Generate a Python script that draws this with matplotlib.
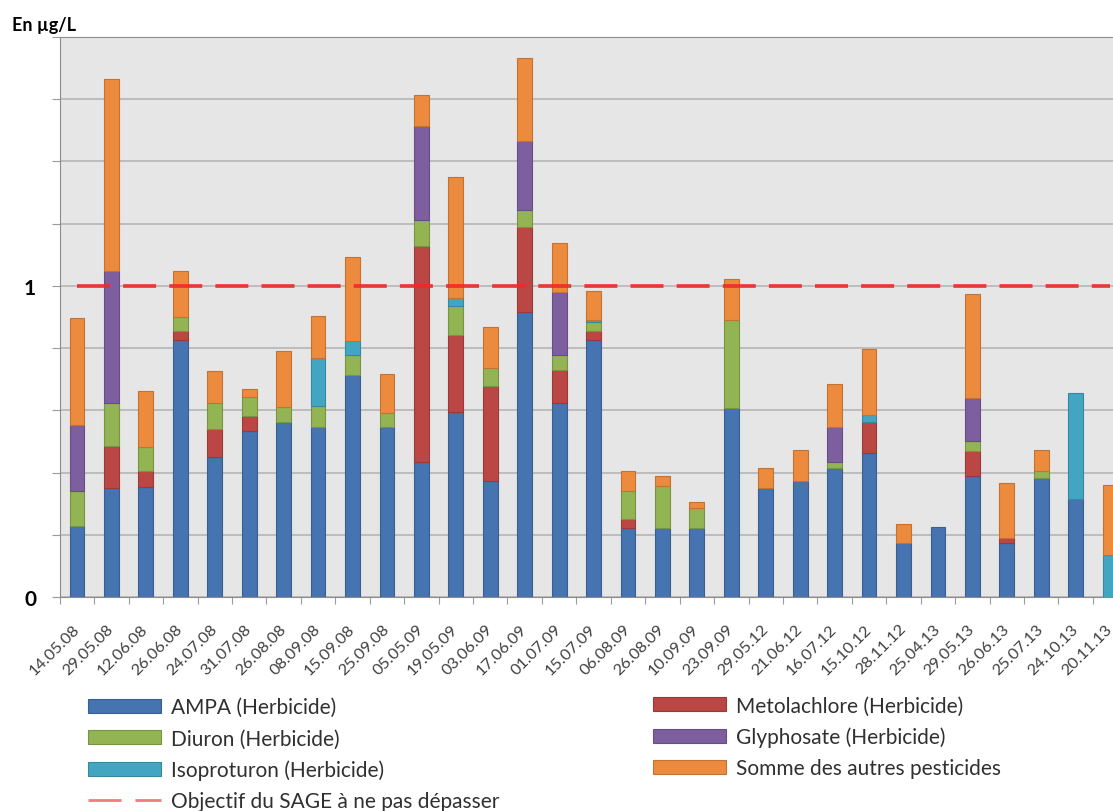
import numpy as np
import matplotlib.pyplot as plt
from matplotlib.lines import Line2D
from matplotlib.patches import Patch

plt.rcParams['font.family'] = ['Lato', 'DejaVu Sans']

dates = ['14.05.08', '29.05.08', '12.06.08', '26.06.08', '24.07.08', '31.07.08',
         '26.08.08', '08.09.08', '15.09.08', '25.09.08', '05.05.09', '19.05.09',
         '03.06.09', '17.06.09', '01.07.09', '15.07.09', '06.08.09', '26.08.09',
         '10.09.09', '23.09.09', '29.05.12', '21.06.12', '16.07.12', '15.10.12',
         '28.11.12', '25.04.13', '29.05.13', '26.06.13', '25.07.13', '24.10.13',
         '20.11.13']

# concentrations en µg/L, empilées dans cet ordre
ampa = [0.227, 0.349, 0.355, 0.826, 0.449, 0.534, 0.562, 0.546, 0.714, 0.545,
        0.433, 0.596, 0.372, 0.917, 0.623, 0.826, 0.223, 0.223, 0.223, 0.607,
        0.349, 0.373, 0.414, 0.463, 0.173, 0.225, 0.390, 0.174, 0.382, 0.315, 0.0]
metolachlore = [0, 0.138, 0.049, 0.028, 0.091, 0.047, 0, 0, 0, 0,
                0.694, 0.246, 0.305, 0.272, 0.107, 0.028, 0.028, 0, 0, 0,
                0, 0, 0, 0.099, 0, 0, 0.078, 0.015, 0, 0, 0]
diuron = [0.113, 0.136, 0.079, 0.045, 0.083, 0.063, 0.049, 0.067, 0.064, 0.046,
          0.086, 0.095, 0.059, 0.055, 0.048, 0.029, 0.091, 0.135, 0.063, 0.284,
          0, 0, 0.021, 0, 0, 0, 0.035, 0, 0.022, 0, 0]
isoproturon = [0, 0, 0, 0, 0, 0, 0, 0.154, 0.046, 0,
               0, 0.024, 0, 0, 0, 0.009, 0, 0, 0, 0,
               0, 0, 0, 0.024, 0, 0, 0, 0, 0, 0.341, 0.135]
glyphosate = [0.214, 0.426, 0, 0, 0, 0, 0, 0, 0, 0,
              0.300, 0, 0, 0.223, 0.202, 0, 0, 0, 0, 0,
              0, 0, 0.111, 0, 0, 0, 0.136, 0, 0, 0, 0]
autres = [0.343, 0.617, 0.179, 0.148, 0.103, 0.024, 0.179, 0.135, 0.269, 0.125,
          0.101, 0.388, 0.133, 0.265, 0.158, 0.091, 0.064, 0.031, 0.018, 0.132,
          0.065, 0.101, 0.138, 0.211, 0.062, 0, 0.335, 0.178, 0.067, 0, 0.226]

objectif = 1.0

series = [
    ('AMPA (Herbicide)', ampa, '#4674b0', '#3a5f8f'),
    ('Metolachlore (Herbicide)', metolachlore, '#bb4745', '#983a38'),
    ('Diuron (Herbicide)', diuron, '#93b453', '#789343'),
    ('Isoproturon (Herbicide)', isoproturon, '#42a6c2', '#36889f'),
    ('Glyphosate (Herbicide)', glyphosate, '#7d5fa0', '#664e83'),
    ('Somme des autres pesticides', autres, '#ec8b3d', '#c27232'),
]

fig = plt.figure(figsize=(11.13, 8.12), dpi=100)
ax = fig.add_axes([0.0537, 0.2635, 0.9592, 0.6897])

x = np.arange(len(dates))
bottom = np.zeros(len(dates))
handles = {}
for name, vals, color, edge in series:
    vals = np.array(vals)
    ax.bar(x, vals, 0.43, bottom=bottom, color=color, edgecolor=edge,
           linewidth=np.where(vals > 0, 0.8, 0), zorder=2)
    bottom += vals
    handles[name] = Patch(facecolor=color, edgecolor=edge, linewidth=0.8)

ax.plot(x, [objectif] * len(x), color='#ee2a2a', lw=2.7, dashes=(8.8, 3.5),
        alpha=0.9, zorder=3)

ax.set_xlim(-0.5, len(dates) - 0.5)
ax.set_ylim(0, 1.8)
ax.set_facecolor('#e6e6e6')

yt = np.round(np.arange(0, 1.81, 0.2), 1)
ax.set_yticks(yt)
ax.set_yticklabels(['0' if v == 0 else '1' if v == 1 else '' for v in yt],
                   fontweight='bold', fontsize=15)
ax.yaxis.grid(True, color='#b5b5b5', lw=1.2)
ax.set_axisbelow(True)
ax.tick_params(axis='y', length=6, color='#9a9a9a', pad=11)

ax.set_xticks(np.arange(len(dates) + 1) - 0.5)
ax.set_xticklabels([])
ax.set_xticks(x, minor=True)
ax.set_xticklabels(dates, minor=True, rotation=45, ha='right', va='center',
                   rotation_mode='anchor', fontsize=11.8, color='#404040')
ax.tick_params(axis='x', which='major', length=5, color='#9a9a9a')
ax.tick_params(axis='x', which='minor', length=0, pad=21)

for s in ['left', 'top', 'bottom']:
    ax.spines[s].set_color('#8c8c8c')
ax.spines['right'].set_visible(False)

fig.text(0.011, 1 - 25 / 812, 'En µg/L', fontweight='bold', fontsize=13,
         va='center')

obj_line = Line2D([], [], color='#f27b7b', lw=2, dashes=(11.9, 5))
left_names = ['AMPA (Herbicide)', 'Diuron (Herbicide)', 'Isoproturon (Herbicide)']
right_names = ['Metolachlore (Herbicide)', 'Glyphosate (Herbicide)',
               'Somme des autres pesticides']

leg_kw = dict(loc='upper left', frameon=False, fontsize=15, borderpad=0,
              borderaxespad=0, handlelength=3.5, handleheight=0.65,
              handletextpad=0.48, labelspacing=0.53)
leg1 = fig.legend([handles[n] for n in left_names] + [obj_line],
                  left_names + ['Objectif du SAGE à ne pas dépasser'],
                  bbox_to_anchor=(0.079, 0.140), **leg_kw)
leg2 = fig.legend([handles[n] for n in right_names], right_names,
                  bbox_to_anchor=(0.587, 0.142), **leg_kw)
for leg in (leg1, leg2):
    for t in leg.get_texts():
        t.set_color('#303030')

fig.savefig('out.png', dpi=100)
